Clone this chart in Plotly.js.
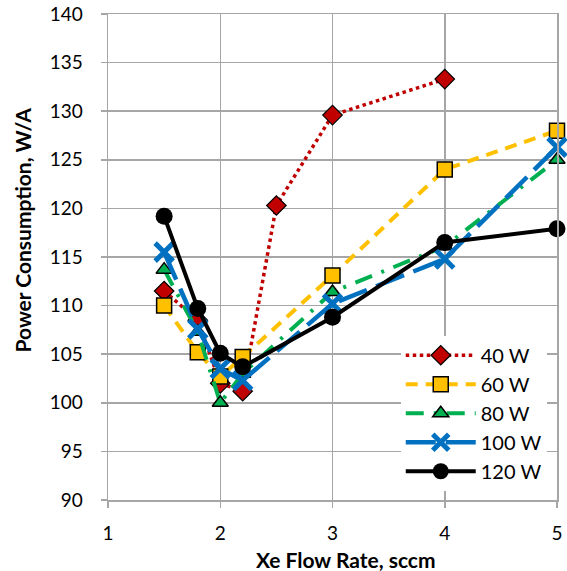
<!DOCTYPE html>
<html>
<head>
<meta charset="utf-8">
<script src="https://cdn.plot.ly/plotly-3.0.1.min.js"></script>
<style>html,body{margin:0;padding:0;background:#fff}#chart{width:567px;height:571px}</style>
</head>
<body>
<div id="chart"></div>
<script>
const seriesNames = ["40 W", "60 W", "80 W", "100 W", "120 W"];
const x40 = [1.5, 1.8, 2.0, 2.2, 2.5, 3.0, 4.0];
const y40 = [111.5, 108.5, 102.0, 101.2, 120.3, 129.6, 133.3];
const x60 = [1.5, 1.8, 2.0, 2.2, 3.0, 4.0, 5.0];
const y60 = [110.0, 105.2, 102.7, 104.7, 113.1, 124.0, 128.0];
const x80 = [1.5, 1.8, 2.0, 2.2, 3.0, 4.0, 5.0];
const y80 = [113.7, 107.3, 100.0, 103.0, 111.4, 116.1, 125.0];
const x100 = [1.5, 1.8, 2.0, 2.2, 3.0, 4.0, 5.0];
const y100 = [115.5, 107.6, 103.5, 102.3, 110.2, 114.8, 126.3];
const x120 = [1.5, 1.8, 2.0, 2.2, 3.0, 4.0, 5.0];
const y120 = [119.2, 109.7, 105.1, 103.7, 108.8, 116.5, 117.9];
const xTicks = [1, 2, 3, 4, 5];
const yTicks = [90, 95, 100, 105, 110, 115, 120, 125, 130, 135, 140];
const xTitle = "Xe Flow Rate, sccm";
const yTitle = "Power Consumption, W/A";

const font = "Lato, 'Open Sans', sans-serif";
const traces = [
  {x: x40, y: y40, name: seriesNames[0], mode: "lines+markers", cliponaxis: false,
   line: {color: "#C00000", width: 3.5, dash: "dot"},
   marker: {symbol: "diamond", size: 15, color: "#C00000", line: {color: "#000", width: 1.2}}},
  {x: x60, y: y60, name: seriesNames[1], mode: "lines+markers", cliponaxis: false,
   line: {color: "#FFC000", width: 4, dash: "12px,8px"},
   marker: {symbol: "square", size: 15, color: "#FFC000", line: {color: "#000", width: 1.5}}},
  {x: x80, y: y80, name: seriesNames[2], mode: "lines+markers", cliponaxis: false,
   line: {color: "#00B050", width: 4, dash: "18px,10px,3px,10px"},
   marker: {symbol: "triangle-up", size: 14, color: "#00B050", line: {color: "#000", width: 1.5}}},
  {x: x100, y: y100, name: seriesNames[3], mode: "lines+markers", cliponaxis: false,
   line: {color: "#0070C0", width: 4.5, dash: "30px,10px"},
   marker: {symbol: "x-thin", size: 18, color: "#0070C0", line: {color: "#0070C0", width: 5}}},
  {x: x120, y: y120, name: seriesNames[4], mode: "lines+markers", cliponaxis: false,
   line: {color: "#000000", width: 4},
   marker: {symbol: "circle", size: 17, color: "#000000"}}
];

const layout = {
  width: 567, height: 571,
  margin: {l: 108, r: 10, t: 14, b: 71},
  paper_bgcolor: "#fff", plot_bgcolor: "#fff",
  font: {family: font, size: 19, color: "#000"},
  showlegend: true,
  legend: {x: 0.652, y: 0.338, xanchor: "left", yanchor: "top",
           bgcolor: "#fff", borderwidth: 0, font: {family: font, size: 20},
           tracegroupgap: 0, itemwidth: 70},
  xaxis: {range: [1, 5], tickvals: xTicks, ticktext: xTicks.map(String),
          showgrid: true, gridcolor: "#A6A6A6", gridwidth: 1.5,
          showline: true, linecolor: "#A6A6A6", linewidth: 1.5, mirror: true,
          ticks: "outside", ticklen: 6, tickcolor: "#A6A6A6", tickwidth: 1.5,
          ticklabelstandoff: 10, zeroline: false},
  yaxis: {range: [90, 140], tickvals: yTicks, ticktext: yTicks.map(String),
          showgrid: true, gridcolor: "#A6A6A6", gridwidth: 1.5,
          showline: true, linecolor: "#A6A6A6", linewidth: 1.5, mirror: true,
          ticks: "outside", ticklen: 6, tickcolor: "#A6A6A6", tickwidth: 1.5,
          ticklabelstandoff: 14, zeroline: false},
  annotations: [
    {text: "<b>" + xTitle + "</b>", xref: "paper", yref: "paper", x: 0.53, y: -0.123,
     xanchor: "center", yanchor: "middle", showarrow: false, font: {family: font, size: 21}},
    {text: "<b>" + yTitle + "</b>", xref: "paper", yref: "paper", x: -0.191, y: 0.555,
     xanchor: "center", yanchor: "middle", textangle: -90, showarrow: false, font: {family: font, size: 21}}
  ]
};

Plotly.newPlot("chart", traces, layout, {displayModeBar: false, staticPlot: true});
</script>
</body>
</html>
